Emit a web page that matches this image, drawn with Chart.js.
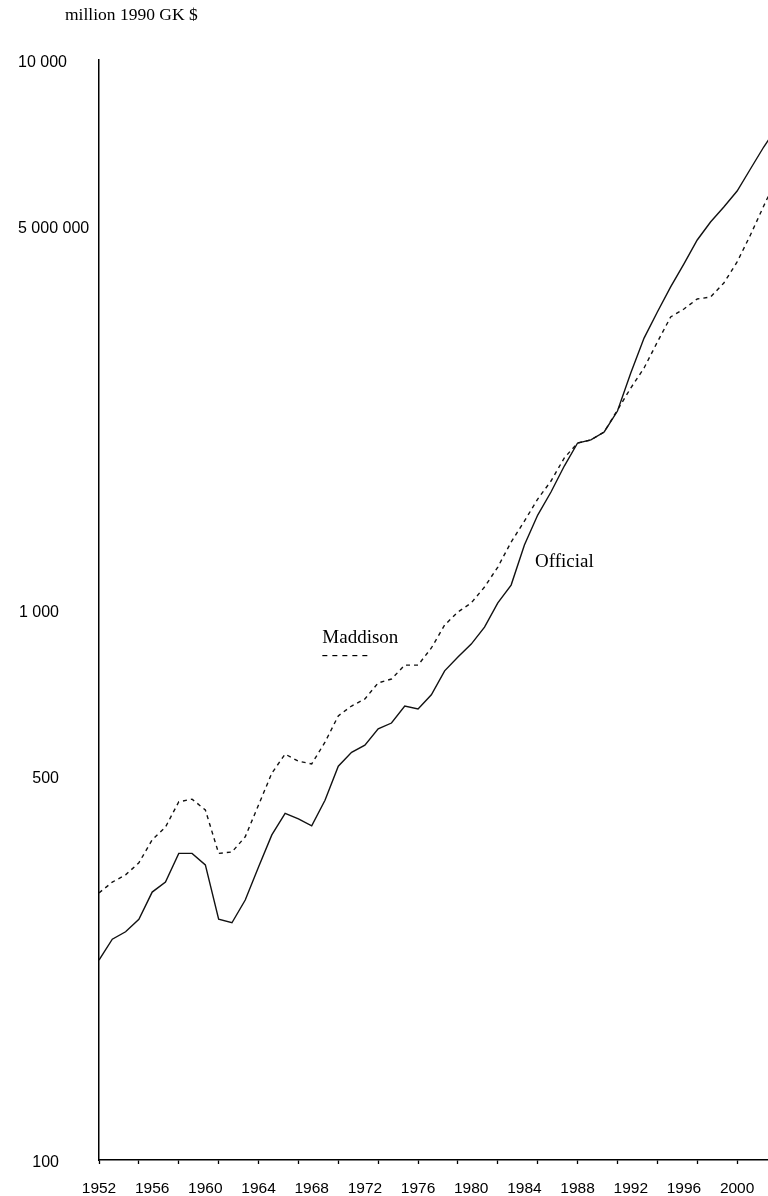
<!DOCTYPE html>
<html>
<head>
<meta charset="utf-8">
<script src="https://cdn.jsdelivr.net/npm/chart.js@4.4.1/dist/chart.umd.min.js"></script>
<style>
  html, body { margin: 0; padding: 0; background: #fff; overflow: hidden; }
  #wrap { width: 777px; height: 1196px; }
</style>
</head>
<body>
<div id="wrap"><canvas id="c" width="777" height="1196"></canvas></div>
<script>
// China GDP, million 1990 Geary-Khamis dollars, 1952-2003
const years = [];
for (let y = 1952; y <= 2003; y++) years.push(y);

const official = [
  231, 252, 260, 274, 307, 320, 361, 361, 344, 274,
  270, 297, 341, 390, 427, 417, 405, 451, 520, 551,
  568, 608, 623, 669, 661, 701, 775, 821, 867, 931,
  1030, 1110, 1313, 1488, 1639, 1827, 2012, 2038, 2107, 2300,
  2697, 3122, 3482, 3867, 4258, 4707, 5076, 5405, 5778, 6336,
  6947, 7553
];

const maddison = [
  306, 320, 330, 347, 382, 403, 448, 453, 433, 361,
  363, 387, 442, 505, 547, 531, 525, 575, 642, 669,
  689, 737, 749, 794, 794, 853, 939, 992, 1030, 1101,
  1197, 1329, 1451, 1591, 1716, 1890, 2012, 2038, 2107, 2310,
  2533, 2754, 3070, 3410, 3526, 3677, 3707, 3931, 4293, 4806,
  5427, 6102
];

const yTickValues = [100, 500, 1000, 5000, 10000];
const yTickLabels = ['100', '500', '1 000', '5 000 000', '10 000'];

const unitLabel = 'million 1990 GK $';
const seriesNames = ['Official', 'Maddison'];
// anchor points (year, value) for the series name labels
const officialLabelAt = [1984.8, 1223];
const maddisonLabelAt = [1968.8, 889];

const FIRST_YEAR = 1952;
const TICK_FONT = '"Liberation Sans", Arial, sans-serif';
const SERIF = '"Liberation Serif", "Times New Roman", serif';

const annotations = {
  id: 'annotations',
  afterDraw(chart) {
    const ctx = chart.ctx;
    const xs = chart.scales.x, ys = chart.scales.y;
    const area = chart.chartArea;
    ctx.save();
    ctx.fillStyle = '#000';

    // y axis labels
    ctx.font = '16px ' + TICK_FONT;
    ctx.textBaseline = 'middle';
    ctx.textAlign = 'right';
    yTickValues.forEach((v, i) => {
      const t = yTickLabels[i];
      const w = ctx.measureText(t).width;
      let xr = area.left - 40;
      if (xr - w < 18) xr = 18 + w;
      ctx.fillText(t, xr, ys.getPixelForValue(v) + 3);
    });

    // unit label
    ctx.font = '17.5px ' + SERIF;
    ctx.textAlign = 'left';
    ctx.fillText(unitLabel, area.left - 34, 15);

    // series names
    ctx.font = '19px ' + SERIF;
    const ox = xs.getPixelForValue(officialLabelAt[0]);
    const oy = ys.getPixelForValue(officialLabelAt[1]);
    ctx.fillText(seriesNames[0], ox, oy);

    const mx = xs.getPixelForValue(maddisonLabelAt[0]);
    const my = ys.getPixelForValue(maddisonLabelAt[1]);
    ctx.fillText(seriesNames[1], mx, my);

    // dashed key under the Maddison label
    ctx.strokeStyle = '#000';
    ctx.lineWidth = 1.2;
    ctx.setLineDash([5, 5]);
    ctx.beginPath();
    ctx.moveTo(mx, my + 17.5);
    ctx.lineTo(mx + 48, my + 17.5);
    ctx.stroke();
    ctx.restore();
  }
};

new Chart(document.getElementById('c'), {
  type: 'line',
  data: {
    labels: years,
    datasets: [
      {
        label: seriesNames[0],
        data: years.map((y, i) => ({ x: y, y: official[i] })),
        borderColor: '#111',
        borderWidth: 1.4,
        pointRadius: 0,
        tension: 0,
        fill: false
      },
      {
        label: seriesNames[1],
        data: years.map((y, i) => ({ x: y, y: maddison[i] })),
        borderColor: '#111',
        borderWidth: 1.4,
        borderDash: [4, 4],
        pointRadius: 0,
        tension: 0,
        fill: false
      }
    ]
  },
  options: {
    responsive: false,
    animation: false,
    devicePixelRatio: 1,
    layout: { padding: { top: 60, left: 0, right: 0, bottom: 0 } },
    plugins: { legend: { display: false }, tooltip: { enabled: false } },
    scales: {
      x: {
        type: 'linear',
        min: 1952,
        max: 2003,
        afterFit(scale) {
          scale.height = 36;
          scale.paddingLeft = 0;
          scale.paddingRight = 0;
        },
        afterBuildTicks(scale) {
          const t = [];
          for (let y = 1952; y <= 2003; y++) t.push({ value: y });
          scale.ticks = t;
        },
        ticks: {
          autoSkip: false,
          maxRotation: 0,
          padding: 15,
          color: '#000',
          font: { family: TICK_FONT, size: 15.5 },
          callback: v => ((v - FIRST_YEAR) % 4 === 0 ? String(v) : '')
        },
        grid: {
          drawOnChartArea: false,
          drawTicks: true,
          tickLength: 4,
          tickWidth: 1.3,
          tickColor: c => (c.tick && (c.tick.value - FIRST_YEAR) % 3 === 0 ? '#000' : 'rgba(0,0,0,0)')
        },
        border: { display: true, color: '#000', width: 1.5 }
      },
      y: {
        type: 'logarithmic',
        min: 100,
        max: 10000,
        afterFit(scale) { scale.width = 99; },
        ticks: { display: false },
        grid: { display: false, drawTicks: false },
        border: { display: true, color: '#000', width: 1.5 }
      }
    }
  },
  plugins: [annotations]
});
</script>
</body>
</html>
